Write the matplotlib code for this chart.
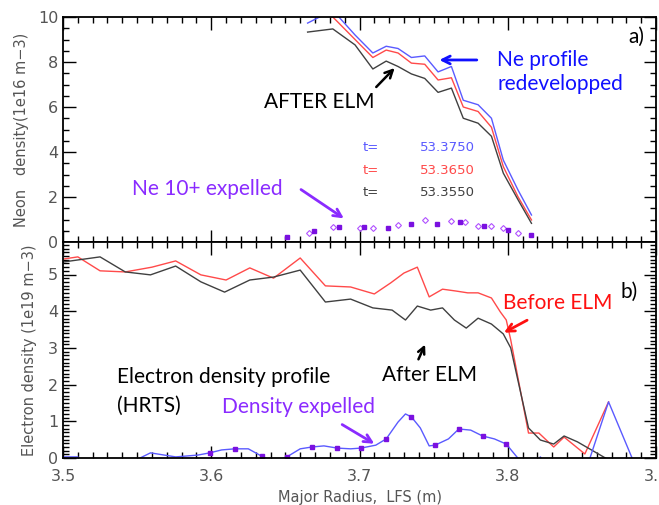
import numpy as np
import matplotlib.pyplot as plt
from matplotlib.ticker import MultipleLocator

# Профили неона (верхняя панель), три момента времени
r_ne = [3.665, 3.682, 3.697, 3.709, 3.718, 3.726, 3.735, 3.744,
        3.753, 3.762, 3.770, 3.780, 3.789, 3.797, 3.807, 3.816]
ne_t3750 = [9.73, 10.3, 9.2, 8.4, 8.7, 8.6, 8.2, 8.27,
            7.56, 7.8, 6.3, 6.1, 5.5, 3.64, 2.3, 1.2]
ne_t3650 = [10.3, 10.0, 9.0, 8.2, 8.53, 8.4, 7.95, 7.9,
            7.2, 7.3, 6.0, 5.8, 5.1, 3.35, 2.0, 0.98]
ne_t3550 = [9.33, 9.47, 8.76, 7.69, 8.04, 7.8, 7.47, 7.27,
            6.65, 6.84, 5.5, 5.28, 4.7, 3.06, 1.87, 0.83]
times = ['53.3750', '53.3650', '53.3550']

# Выброшенный Ne 10+
r_exp_sq = [3.651, 3.669, 3.686, 3.703, 3.719, 3.735, 3.752, 3.768, 3.784, 3.800, 3.816]
ne_exp_sq = [0.22, 0.49, 0.67, 0.67, 0.62, 0.8, 0.8, 0.89, 0.71, 0.53, 0.31]
r_exp_dm = [3.666, 3.682, 3.700, 3.709, 3.726, 3.744, 3.762, 3.771, 3.780, 3.789, 3.797, 3.807]
ne_exp_dm = [0.4, 0.67, 0.62, 0.62, 0.76, 0.98, 0.93, 0.89, 0.71, 0.71, 0.62, 0.4]

# Электронная плотность (нижняя панель)
r_before = [3.500, 3.510, 3.525, 3.542, 3.560, 3.576, 3.593, 3.610, 3.626, 3.642,
            3.660, 3.677, 3.694, 3.710, 3.721, 3.730, 3.739, 3.747, 3.756, 3.765,
            3.773, 3.780, 3.789, 3.795, 3.799, 3.802, 3.814, 3.821, 3.831, 3.838,
            3.852, 3.868]
ne_before = [5.42, 5.48, 5.10, 5.07, 5.20, 5.37, 4.99, 4.85, 5.18, 4.90,
             5.45, 4.69, 4.66, 4.47, 4.77, 5.04, 5.20, 4.39, 4.60, 4.55,
             4.50, 4.50, 4.36, 3.98, 3.76, 3.22, 0.68, 0.68, 0.30, 0.57,
             0.11, 1.53]
r_after = [3.500, 3.525, 3.542, 3.559, 3.576, 3.593, 3.609, 3.626, 3.642, 3.660,
           3.677, 3.694, 3.709, 3.722, 3.731, 3.739, 3.748, 3.756, 3.764, 3.772,
           3.780, 3.789, 3.797, 3.802, 3.814, 3.822, 3.831, 3.838, 3.847, 3.868,
           3.880]
ne_after = [5.34, 5.48, 5.07, 4.99, 5.23, 4.80, 4.52, 4.85, 4.93, 5.12,
            4.25, 4.33, 4.09, 4.03, 3.76, 4.14, 4.03, 4.09, 3.76, 3.54,
            3.81, 3.65, 3.38, 3.00, 0.82, 0.49, 0.38, 0.60, 0.44, -0.05,
            -0.3]

# Выброшенная плотность (разность профилей)
r_diff = [3.500, 3.510, 3.515, 3.542, 3.559, 3.576, 3.591, 3.599, 3.607, 3.616,
          3.625, 3.634, 3.642, 3.651, 3.660, 3.668, 3.676, 3.685, 3.694, 3.701,
          3.711, 3.718, 3.726, 3.731, 3.735, 3.741, 3.747, 3.751, 3.760, 3.767,
          3.775, 3.783, 3.791, 3.799, 3.809, 3.816, 3.822, 3.828, 3.853, 3.868,
          3.885, 3.890]
ne_diff = [0.03, 0.03, -0.2, -0.2, 0.14, 0.03, 0.08, 0.14, 0.22, 0.25,
           0.25, 0.05, -0.11, 0.03, 0.25, 0.30, 0.33, 0.27, 0.25, 0.27,
           0.35, 0.52, 0.98, 1.20, 1.12, 0.82, 0.33, 0.35, 0.52, 0.79,
           0.76, 0.60, 0.52, 0.38, -0.11, -0.3, 0.03, -0.3, -0.3, 1.53,
           -0.11, -0.3]
r_diff_sq = [3.599, 3.616, 3.634, 3.651, 3.668, 3.685, 3.701, 3.718, 3.735,
             3.751, 3.767, 3.783, 3.799]
ne_diff_sq = [0.14, 0.25, 0.05, 0.03, 0.30, 0.27, 0.27, 0.52, 1.12,
              0.35, 0.79, 0.60, 0.38]

BLUE = '#5a5aff'
RED = '#ff4a4a'
DARK = '#404040'
PURPLE = '#7a10e0'
VIOLET = '#8a2bff'
GRAY = '#555555'
ANN_FONT = 'Lato'


def style_axis(ax, ymajor, yminor):
    ax.xaxis.set_major_locator(MultipleLocator(0.1))
    ax.xaxis.set_minor_locator(MultipleLocator(0.01))
    ax.yaxis.set_major_locator(MultipleLocator(ymajor))
    ax.yaxis.set_minor_locator(MultipleLocator(yminor))
    ax.tick_params(which='both', direction='in', top=True, right=True,
                   colors='black', labelcolor=GRAY, labelsize=11.5, width=1)
    ax.tick_params(which='major', length=9)
    ax.tick_params(which='minor', length=4.5)
    for s in ax.spines.values():
        s.set_linewidth(1.3)


def main():
    fig = plt.figure(figsize=(6.59, 5.05), dpi=100)
    ax1 = fig.add_axes([63 / 659, 1 - 242 / 505, 593 / 659, 225 / 505])
    ax2 = fig.add_axes([63 / 659, 1 - 458 / 505, 593 / 659, 216 / 505])

    # a) профили неона
    ax1.plot(r_ne, ne_t3750, color=BLUE, lw=1)
    ax1.plot(r_ne, ne_t3650, color=RED, lw=1)
    ax1.plot(r_ne, ne_t3550, color=DARK, lw=1)
    ax1.plot(r_exp_dm, ne_exp_dm, ls='none', marker='D', ms=3, mfc='none',
             mec='#b050ff', mew=0.8)
    ax1.plot(r_exp_sq, ne_exp_sq, ls='none', marker='s', ms=3.2, color=PURPLE)
    ax1.set_xlim(3.5, 3.9)
    ax1.set_ylim(0, 10)
    style_axis(ax1, 2, 0.5)
    ax1.tick_params(labelbottom=False)
    ax1.set_ylabel('Neon   density(1e16 m\u22123)', color=GRAY, fontsize=10.5,
                   labelpad=6)

    for i, (t, c) in enumerate(zip(times, [BLUE, RED, DARK])):
        y = 4.22 - 1.02 * i
        ax1.text(3.702, y, 't=', color=c, fontsize=9.5, va='center')
        ax1.text(3.7406, y, t, color=c, fontsize=9.5, va='center')

    ax1.text(3.887, 9.1, 'a)', fontsize=15, va='center', ha='center',
             family=ANN_FONT)
    ax1.text(3.793, 7.56, 'Ne profile\nredevelopped', color='#1010ff',
             fontsize=15, va='center', family=ANN_FONT, linespacing=1.3)
    ax1.annotate('', xy=(3.752, 8.09), xytext=(3.781, 8.09),
                 arrowprops=dict(arrowstyle='->', color='#1010ff', lw=2,
                                 mutation_scale=14))
    ax1.text(3.6354, 6.22, 'AFTER ELM', fontsize=15, va='center',
             family=ANN_FONT)
    ax1.annotate('', xy=(3.725, 7.82), xytext=(3.710, 6.8),
                 arrowprops=dict(arrowstyle='->', color='black', lw=1.8,
                                 mutation_scale=14))
    ax1.text(3.5465, 2.36, 'Ne 10+ expelled', color=VIOLET, fontsize=15,
             va='center', family=ANN_FONT)
    ax1.annotate('', xy=(3.691, 0.98), xytext=(3.659, 2.4),
                 arrowprops=dict(arrowstyle='->', color=VIOLET, lw=2,
                                 mutation_scale=14))

    # b) электронная плотность
    ax2.plot(r_before, ne_before, color=RED, lw=1)
    ax2.plot(r_after, ne_after, color=DARK, lw=1)
    ax2.plot(r_diff, ne_diff, color=BLUE, lw=1)
    ax2.plot(r_diff_sq, ne_diff_sq, ls='none', marker='s', ms=3.2, color=PURPLE)
    ax2.set_xlim(3.5, 3.9)
    ax2.set_ylim(0, 216 / 36.7)
    style_axis(ax2, 1, 0.1)
    ax2.set_xticks([3.5, 3.6, 3.7, 3.8, 3.9])
    ax2.set_xticklabels(['3.5', '3.6', '3.7', '3.8', '3.9'])
    ax2.tick_params(axis='x', pad=8)
    ax2.set_ylabel('Electron density (1e19 m\u22123)', color=GRAY,
                   fontsize=10.5, labelpad=8)
    ax2.set_xlabel('Major Radius,  LFS (m)', color=GRAY, fontsize=10.5,
                   labelpad=4)

    ax2.text(3.882, 4.52, 'b)', fontsize=15, va='center', ha='center',
             family=ANN_FONT)
    ax2.text(3.7965, 4.22, 'Before ELM', color='#ff1010', fontsize=15,
             va='center', family=ANN_FONT)
    ax2.annotate('', xy=(3.7958, 3.38), xytext=(3.8147, 3.79),
                 arrowprops=dict(arrowstyle='->', color='#ff1010', lw=2,
                                 mutation_scale=14))
    ax2.text(3.715, 2.26, 'After ELM', fontsize=15, va='center',
             family=ANN_FONT)
    ax2.annotate('', xy=(3.745, 3.16), xytext=(3.739, 2.62),
                 arrowprops=dict(arrowstyle='->', color='black', lw=1.8,
                                 mutation_scale=12))
    ax2.text(3.5364, 2.22, 'Electron density profile', fontsize=15,
             va='center', family=ANN_FONT)
    ax2.text(3.5364, 1.42, '(HRTS)', fontsize=15, va='center',
             family=ANN_FONT)
    ax2.text(3.607, 1.39, 'Density expelled', color=VIOLET, fontsize=15,
             va='center', family=ANN_FONT)
    ax2.annotate('', xy=(3.7116, 0.35), xytext=(3.6867, 0.95),
                 arrowprops=dict(arrowstyle='->', color=VIOLET, lw=2,
                                 mutation_scale=14))

    fig.savefig('out.png', dpi=100)


if __name__ == "__main__":
    main()
